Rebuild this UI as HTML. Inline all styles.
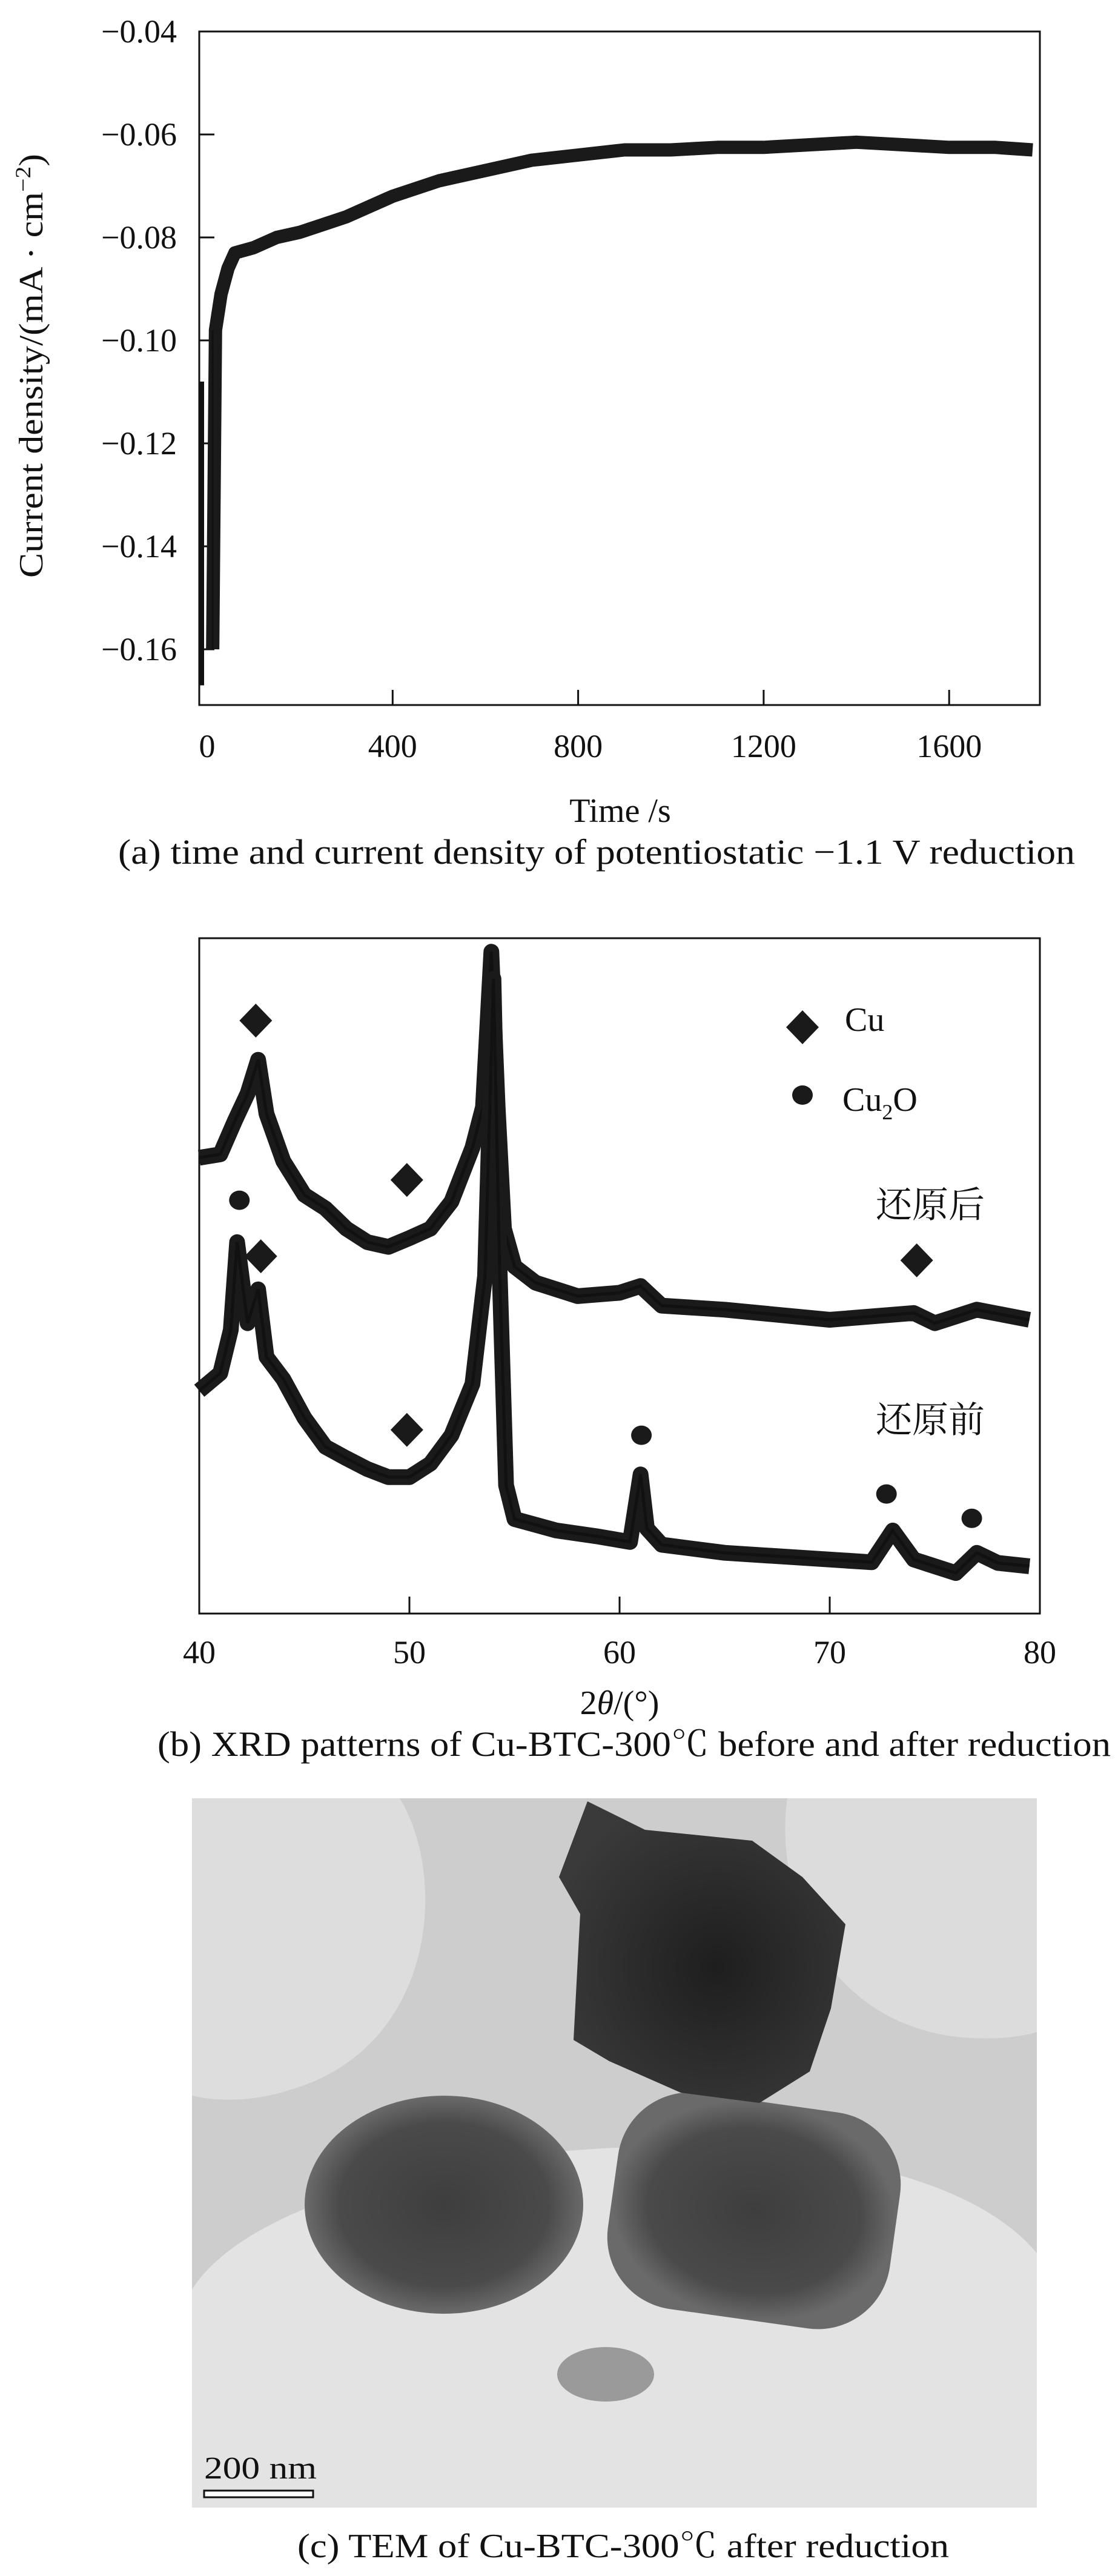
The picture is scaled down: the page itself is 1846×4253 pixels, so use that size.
<!DOCTYPE html>
<html><head><meta charset="utf-8"><style>
html,body{margin:0;padding:0;background:#fff;width:1846px;height:4253px;overflow:hidden}
svg{display:block;overflow:hidden}
text{font-family:"Liberation Serif","Noto Serif CJK SC",serif;fill:#111}
</style></head><body>
<svg id="root" width="1846" height="4253" viewBox="0 0 1846 4253" xmlns="http://www.w3.org/2000/svg">
<defs>
<radialGradient id="gS" cx="0.5" cy="0.5" r="0.5"><stop offset="0" stop-color="#3e3e3e"/><stop offset="0.75" stop-color="#4a4a4a"/><stop offset="1" stop-color="#6a6a6a"/></radialGradient>
<radialGradient id="gT" cx="0.55" cy="0.55" r="0.6"><stop offset="0" stop-color="#1e1e1e"/><stop offset="1" stop-color="#3a3a3a"/></radialGradient>
</defs>
<g id="panelA"></g>
<g id="panelB"></g>
<g id="panelC">
  <rect x="317" y="2969" width="1395" height="1171" fill="#cdcdcd"/>
  <path d="M317,2969 L660,2969 C740,3100 720,3380 480,3450 C420,3470 360,3470 317,3460 Z" fill="#dddddd"/>
  <path d="M1712,2969 L1300,2969 C1280,3100 1340,3320 1560,3360 C1620,3370 1680,3365 1712,3355 Z" fill="#dcdcdc"/>
  <path d="M317,4140 L317,3780 C480,3520 1480,3440 1712,3720 L1712,4140 Z" fill="#e3e3e3"/>
  <ellipse cx="733" cy="3640" rx="230" ry="180" fill="url(#gS)"/>
  <rect x="1010" y="3470" width="470" height="360" rx="120" fill="url(#gS)" transform="rotate(8 1245 3650)"/>
  <polygon points="970,2974 1065,3021 1242,3039 1325,3099 1396,3177 1372,3316 1337,3420 1254,3472 1124,3455 1006,3403 947,3368 958,3160 923,3099" fill="url(#gT)"/>
  <ellipse cx="1000" cy="3920" rx="80" ry="45" fill="#9a9a9a"/>
  <text x="337" y="4092" font-size="52" textLength="186" lengthAdjust="spacingAndGlyphs">200 nm</text>
  <rect x="337" y="4112" width="180" height="11" fill="#fff" stroke="#111" stroke-width="3"/>
</g>
<text x="1029" y="4222" font-size="56" text-anchor="middle" textLength="1076" lengthAdjust="spacingAndGlyphs">(c) TEM of Cu-BTC-300℃ after reduction</text>
</svg>
<script>
// ---------- Panel A data ----------
const timeA = [12, 18, 30, 45, 60, 100, 150, 200, 300, 400, 500, 600, 700, 800, 900, 1000, 1100, 1200, 1300, 1400, 1500, 1600, 1700, 1780];
const currentA = [-0.160, -0.098, -0.091, -0.086, -0.083, -0.082, -0.080, -0.079, -0.076, -0.072, -0.069, -0.067, -0.065, -0.064, -0.063, -0.063, -0.0625, -0.0625, -0.062, -0.0615, -0.062, -0.0625, -0.0625, -0.063];
const spikeA = [-0.108, -0.167];
const xTicksA = [0, 400, 800, 1200, 1600];
const yTicksA = [-0.04, -0.06, -0.08, -0.10, -0.12, -0.14, -0.16];
const yTickLabelsA = ["\u22120.04", "\u22120.06", "\u22120.08", "\u22120.10", "\u22120.12", "\u22120.14", "\u22120.16"];

// ---------- Panel B data ----------
const thetaAfter = [40, 41, 41.7, 42.3, 42.8, 43.2, 44, 45, 46, 47, 48, 49, 50, 51, 52, 53, 53.5, 53.9, 54.2, 54.5, 55, 56, 58, 60, 61, 62, 65, 70, 74, 75, 77, 79.5];
const intAfter = [67.5, 68, 73, 77, 82, 74, 67, 62, 60, 57, 55, 54.3, 55.6, 57, 61, 69, 75, 98, 75, 57, 51.4, 49, 47, 47.5, 48.5, 45.6, 45, 43.5, 44.5, 43, 45, 43.5];
const thetaBefore = [40, 41, 41.5, 41.8, 42.3, 42.8, 43.2, 44, 45, 46, 47, 48, 49, 50, 51, 52, 53, 53.6, 54, 54.3, 54.6, 55, 57, 59, 60.5, 61, 61.3, 62, 65, 70, 72, 73, 74, 76, 77, 78, 79.5];
const intBefore = [33, 35.6, 42, 55, 43, 48, 38, 34.7, 29, 24.7, 23, 21.4, 20.2, 20.2, 22.2, 26.4, 34, 50, 94, 50, 19, 14, 12.3, 11.4, 10.6, 20.6, 12.6, 10.2, 9, 8, 7.6, 12.3, 8, 6, 9, 7.5, 7];
const cuDiamondX = [42.69, 49.88, 42.93, 49.88, 74.14];
const cuDiamondY = [87.8, 64.2, 52.9, 27.2, 52.3];
const cu2oCircleX = [41.91, 61.04, 72.7, 76.76];
const cu2oCircleY = [61.2, 26.4, 17.7, 14.1];
const xTicksB = [40, 50, 60, 70, 80];

const NS = "http://www.w3.org/2000/svg";
function mk(parent, tag, attrs, txt) {
  const e = document.createElementNS(NS, tag);
  for (const k in attrs) e.setAttribute(k, attrs[k]);
  if (txt !== undefined) e.textContent = txt;
  parent.appendChild(e);
  return e;
}

// ---------- Panel A ----------
(function () {
  const g = document.getElementById('panelA');
  const L = 329, R = 1717, T = 52, B = 1164;
  const xA = t => 342 + t * (306.3 / 400);
  const yA = v => 52 + (-0.04 - v) / 0.02 * 170;
  const box = mk(g, 'rect', {x: L, y: T, width: R - L, height: B - T, fill: 'none', stroke: '#111', 'stroke-width': 3});
  
  
  yTicksA.forEach((v, i) => {
    const tk = mk(g, 'line', {x1: L, x2: L + 25, y1: yA(v), y2: yA(v), stroke: '#111', 'stroke-width': 3});
    
    
    const lb = mk(g, 'text', {x: 292, y: yA(v) + 18, 'font-size': 54, 'text-anchor': 'end'}, yTickLabelsA[i]);
    
    
  });
  xTicksA.forEach(t => {
    if (t > 0) {
      const tk = mk(g, 'line', {x1: xA(t), x2: xA(t), y1: B, y2: B - 25, stroke: '#111', 'stroke-width': 3});
      
      
    }
    const lb = mk(g, 'text', {x: xA(t), y: 1250, 'font-size': 54, 'text-anchor': 'middle'}, String(t));
    
    
  });
  const sp = mk(g, 'line', {x1: 333, x2: 333, y1: yA(spikeA[0]), y2: yA(spikeA[1]), stroke: '#111', 'stroke-width': 8});
  
  
  let d = '';
  timeA.forEach((t, i) => { d += (i ? 'L' : 'M') + xA(t).toFixed(1) + ',' + yA(currentA[i]).toFixed(1); });
  const band = mk(g, 'path', {d: d, fill: 'none', stroke: '#1a1a1a', 'stroke-width': 22, 'stroke-linejoin': 'round'});
  
  
  const ln = mk(g, 'path', {d: 'M' + xA(timeA[0]) + ',' + yA(currentA[0]) + 'L' + xA(timeA[0]) + ',' + yA(currentA[1]), fill: 'none', stroke: '#111', 'stroke-width': 3});
  
  
  const yt = mk(g, 'text', {transform: 'translate(70,604) rotate(-90)', 'font-size': 56, 'text-anchor': 'middle', textLength: 700, lengthAdjust: 'spacingAndGlyphs'});
  
  
  yt.appendChild(document.createTextNode('Current density/(mA \u00B7 cm'));
  mk(yt, 'tspan', {dy: -20, 'font-size': 36}, '\u22122');
  mk(yt, 'tspan', {dy: 20}, ')');
  const xt = mk(g, 'text', {x: 1024, y: 1357, 'font-size': 56, 'text-anchor': 'middle'}, 'Time /s');
  
  
  const cap = mk(g, 'text', {x: 985, y: 1426, 'font-size': 58, 'text-anchor': 'middle', textLength: 1580, lengthAdjust: 'spacingAndGlyphs'}, '(a) time and current density of potentiostatic \u22121.1  V reduction');
  
  
})();

// ---------- Panel B ----------
(function () {
  const g = document.getElementById('panelB');
  const L = 329, R = 1717, T = 1549, B = 2664;
  const xB = th => L + (th - 40) * (R - L) / 40;
  const yB = v => B - v * (B - T) / 100;
  const box = mk(g, 'rect', {x: L, y: T, width: R - L, height: B - T, fill: 'none', stroke: '#111', 'stroke-width': 3});
  
  
  xTicksB.forEach(t => {
    if (t > 40 && t < 80) {
      const tk = mk(g, 'line', {x1: xB(t), x2: xB(t), y1: B, y2: B - 28, stroke: '#111', 'stroke-width': 3});
      
      
    }
    const lb = mk(g, 'text', {x: xB(t), y: 2746, 'font-size': 54, 'text-anchor': 'middle'}, String(t));
    
    
  });
  function series(xs, ys, name) {
    let d = '';
    xs.forEach((x, i) => { d += (i ? 'L' : 'M') + xB(x).toFixed(1) + ',' + yB(ys[i]).toFixed(1); });
    const p = mk(g, 'path', {d: d, fill: 'none', stroke: '#1a1a1a', 'stroke-width': 26, 'stroke-linejoin': 'round'});
    
    
    const p2 = mk(g, 'path', {d: d, fill: 'none', stroke: '#111', 'stroke-width': 5});
    
    
  }
  series(thetaAfter, intAfter, 'after-reduction-pattern');
  series(thetaBefore, intBefore, 'before-reduction-pattern');
  function diamond(cx, cy, name) {
    const p = mk(g, 'polygon', {points: `${cx},${cy - 28} ${cx + 27},${cy} ${cx},${cy + 28} ${cx - 27},${cy}`, fill: '#1a1a1a'});
    
    
  }
  function dot(cx, cy, name) {
    const c = mk(g, 'ellipse', {cx: cx, cy: cy, rx: 17, ry: 16, fill: '#1a1a1a'});
    
    
  }
  cuDiamondX.forEach((x, i) => diamond(xB(x), yB(cuDiamondY[i]), 'cu-peak-marker'));
  cu2oCircleX.forEach((x, i) => dot(xB(x), yB(cu2oCircleY[i]), 'cu2o-peak-marker'));
  diamond(1325, 1696, 'legend-cu-symbol');
  dot(1325, 1808, 'legend-cu2o-symbol');
  const t1 = mk(g, 'text', {x: 1395, y: 1702, 'font-size': 56}, 'Cu');
  
  
  const t2 = mk(g, 'text', {x: 1391, y: 1834, 'font-size': 56});
  
  
  t2.appendChild(document.createTextNode('Cu'));
  mk(t2, 'tspan', {dy: 14, 'font-size': 36}, '2');
  mk(t2, 'tspan', {dy: -14}, 'O');
  const a = mk(g, 'text', {x: 1446, y: 2010, 'font-size': 60}, '还原后');
  
  
  const b = mk(g, 'text', {x: 1446, y: 2365, 'font-size': 60}, '还原前');
  
  
  const xt = mk(g, 'text', {x: 1023, y: 2830, 'font-size': 56, 'text-anchor': 'middle'});
  
  
  xt.appendChild(document.createTextNode('2'));
  mk(xt, 'tspan', {'font-style': 'italic'}, '\u03B8');
  mk(xt, 'tspan', {}, '/(\u00B0)');
  const cap = mk(g, 'text', {x: 1047, y: 2899, 'font-size': 58, 'text-anchor': 'middle', textLength: 1574, lengthAdjust: 'spacingAndGlyphs'}, '(b) XRD patterns of Cu-BTC-300\u2103 before and after reduction');
  
  
})();
</script>
</body></html>
